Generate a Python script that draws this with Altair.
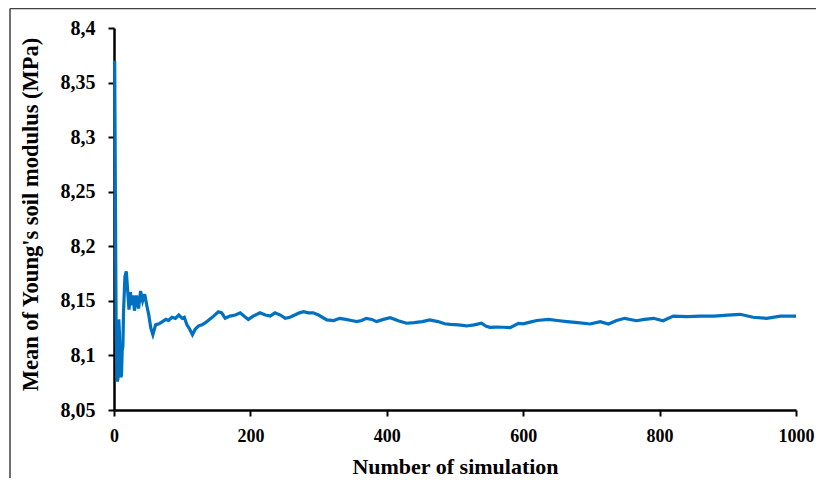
import altair as alt
import pandas as pd

# Simulation number (x) and running mean of Young's soil modulus (y, MPa)
sim_n = [1, 2, 3, 4, 5, 6, 7, 8, 9, 10, 11, 12, 13, 14, 16, 18, 20, 22, 24, 26, 28, 30,
         33, 36, 39, 42, 45, 48, 51, 54, 57, 61, 66, 71, 76, 80, 85, 90, 95, 100, 103,
         107, 111, 115, 119, 124, 129, 134, 140, 146, 153, 158, 163, 170, 178, 185, 191,
         197, 204, 214, 222, 229, 236, 244, 251, 258, 265, 272, 278, 285, 292, 300, 312,
         322, 331, 340, 348, 356, 363, 370, 378, 385, 395, 405, 418, 429, 440, 452, 463,
         475, 485, 493, 505, 517, 528, 539, 545, 551, 560, 571, 581, 593, 600, 610, 620,
         637, 650, 664, 680, 698, 713, 725, 737, 749, 766, 778, 791, 805, 820, 840, 859,
         880, 900, 918, 937, 957, 977, 1000]
mean_e = [8.370, 8.250, 8.135, 8.095, 8.076, 8.080, 8.133, 8.120, 8.090, 8.080, 8.082,
          8.105, 8.108, 8.140, 8.172, 8.177, 8.160, 8.142, 8.158, 8.146, 8.155, 8.141,
          8.155, 8.143, 8.159, 8.150, 8.156, 8.146, 8.137, 8.125, 8.119, 8.128, 8.129,
          8.131, 8.133, 8.132, 8.135, 8.134, 8.137, 8.134, 8.135, 8.128, 8.124, 8.119,
          8.124, 8.127, 8.128, 8.130, 8.133, 8.136, 8.140, 8.139, 8.134, 8.136, 8.137,
          8.139, 8.136, 8.133, 8.136, 8.139, 8.137, 8.136, 8.139, 8.137, 8.134, 8.135,
          8.137, 8.139, 8.140, 8.139, 8.139, 8.137, 8.1325, 8.132, 8.134, 8.133, 8.132,
          8.131, 8.132, 8.134, 8.133, 8.131, 8.133, 8.1345, 8.1315, 8.1295, 8.130, 8.131,
          8.1325, 8.131, 8.129, 8.1285, 8.128, 8.127, 8.128, 8.1295, 8.127, 8.1258, 8.126,
          8.1258, 8.1254, 8.1294, 8.129, 8.1305, 8.132, 8.133, 8.132, 8.131, 8.130,
          8.1288, 8.131, 8.1288, 8.132, 8.134, 8.1318, 8.133, 8.134, 8.1318, 8.136,
          8.1355, 8.136, 8.136, 8.137, 8.1377, 8.135, 8.134, 8.136, 8.136]

x_ticks = [0, 200, 400, 600, 800, 1000]
y_ticks = [8.05, 8.1, 8.15, 8.2, 8.25, 8.3, 8.35, 8.4]

df = pd.DataFrame({"n": sim_n, "m": mean_e})

FONT = "Liberation Serif"

line = alt.Chart(df).mark_line(color="#0070C0", strokeWidth=3.2).encode(
    x=alt.X("n:Q",
            scale=alt.Scale(domain=[0, 1000], nice=False),
            axis=alt.Axis(title="Number of simulation", values=x_ticks, format="d",
                          labelFontSize=18, titleFontSize=22, labelFlush=False,
                          labelPadding=11, tickSize=6,
                          titleY=56, titleBaseline="middle")),
    y=alt.Y("m:Q",
            scale=alt.Scale(domain=[8.05, 8.4], nice=False, zero=False),
            axis=alt.Axis(title="Mean of Young's soil modulus  (MPa)", values=y_ticks,
                          labelExpr="replace(format(datum.value, '.2~f'), '.', ',')",
                          labelFontSize=20, titleFontSize=22.5, labelFlush=False,
                          labelPadding=13, tickSize=6,
                          titleX=-84, titleY=186, titleBaseline="middle",
                          titleAlign="center")),
)

deco = pd.DataFrame({"a": [0]})
frame_top = alt.Chart(deco).mark_rule(color="#404040", strokeWidth=1.5).encode(
    x=alt.value(-104), x2=alt.value(720), y=alt.value(-19.5)
)
frame_left = alt.Chart(deco).mark_rule(color="#404040", strokeWidth=1.5).encode(
    x=alt.value(-104), y=alt.value(-19.5), y2=alt.value(500)
)

chart = alt.layer(frame_top, frame_left, line).properties(
    width=682, height=382,
    autosize=alt.AutoSizeParams(type="none"),
    padding={"left": 106, "top": 20, "right": 20, "bottom": 68},
).configure_view(stroke=None).configure_axis(
    grid=False,
    domainColor="black", domainWidth=2.5,
    tickColor="black", tickWidth=2,
    labelFont=FONT, titleFont=FONT,
    labelFontWeight="bold", titleFontWeight="bold",
    labelColor="black", titleColor="black",
)

chart.save("out.html", embed_options={"renderer": "svg", "actions": False})
